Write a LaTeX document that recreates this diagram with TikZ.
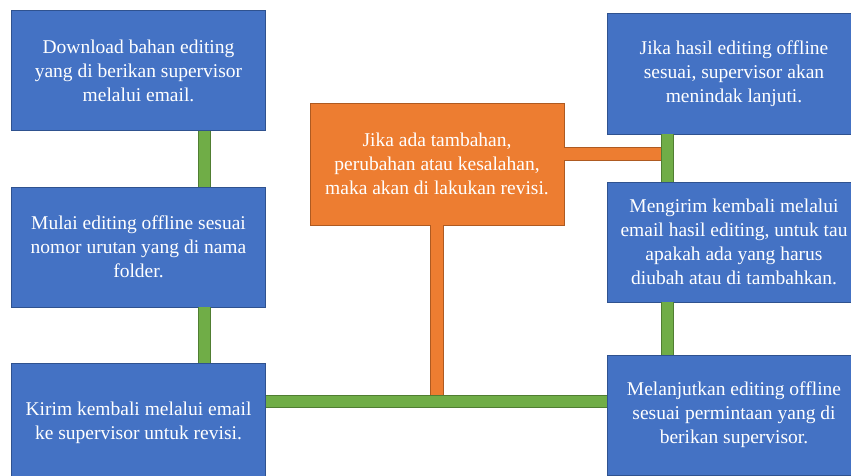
\documentclass[tikz,border=0pt]{standalone}
\usepackage{fontspec}
\setmainfont{Liberation Serif}
\definecolor{bfill}{HTML}{4472C4}
\definecolor{bdraw}{HTML}{2F528F}
\definecolor{ofill}{HTML}{ED7D31}
\definecolor{odraw}{HTML}{AE5A21}
\definecolor{gfill}{HTML}{70AD47}
\definecolor{gdraw}{HTML}{507E32}
\begin{document}
\begin{tikzpicture}[x=1pt,y=-1pt,
  box/.style={draw=bdraw,fill=bfill,line width=0.9pt,minimum width=254pt,minimum height=120pt,
    inner sep=0pt,align=center,text=white,font=\fontsize{19.5}{24}\selectfont},
  obox/.style={box,draw=odraw,fill=ofill,minimum height=122pt},
  gconn/.style={draw=gdraw,line width=0.8pt,double=gfill,double distance=11pt},
  oconn/.style={draw=odraw,line width=0.8pt,double=ofill,double distance=12.5pt}]
\useasboundingbox (0,0) rectangle (851,476);
\clip (0,0) rectangle (851,476);
\fill[white] (0,0) rectangle (851,476);
\node[box] (b1) at (138.5,70.5) {Download bahan editing\\yang di berikan supervisor\\melalui email.};
\node[box] (b2) at (138.5,247) {Mulai editing offline sesuai\\nomor urutan yang di nama\\folder.};
\node[box] (b3) at (138.5,423) {Kirim kembali melalui email\\ke supervisor untuk revisi.};
\node[obox] (o) at (437,164) {Jika ada tambahan,\\perubahan atau kesalahan,\\maka akan di lakukan revisi.};
\node[box,minimum height=121pt] (r1) at (734,73.5) {Jika hasil editing offline\\sesuai, supervisor akan\\menindak lanjuti.};
\node[box] (r2) at (734,242) {Mengirim kembali melalui\\email hasil editing, untuk tau\\apakah ada yang harus\\diubah atau di tambahkan.};
\node[box] (r3) at (734,415) {Melanjutkan editing offline\\sesuai permintaan yang di\\berikan supervisor.};
\coordinate (h) at (0,401.5);
\coordinate (vx) at (667.5,0);
\coordinate (oy) at (0,154);
% connectors
\draw[oconn] (o.south) -- (o.south |- h);
\draw[oconn] (o.east |- oy) -- (vx |- oy);
\draw[gconn] ([xshift=66pt]b1.south) -- ([xshift=66pt]b2.north);
\draw[gconn] ([xshift=66pt]b2.south) -- ([xshift=66pt]b3.north);
\draw[gconn] (b3.east |- h) -- (r3.west |- h);
\draw[gconn] (vx |- r1.south) -- (vx |- r2.north);
\draw[gconn] (vx |- r2.south) -- (vx |- r3.north);
\end{tikzpicture}
\end{document}
